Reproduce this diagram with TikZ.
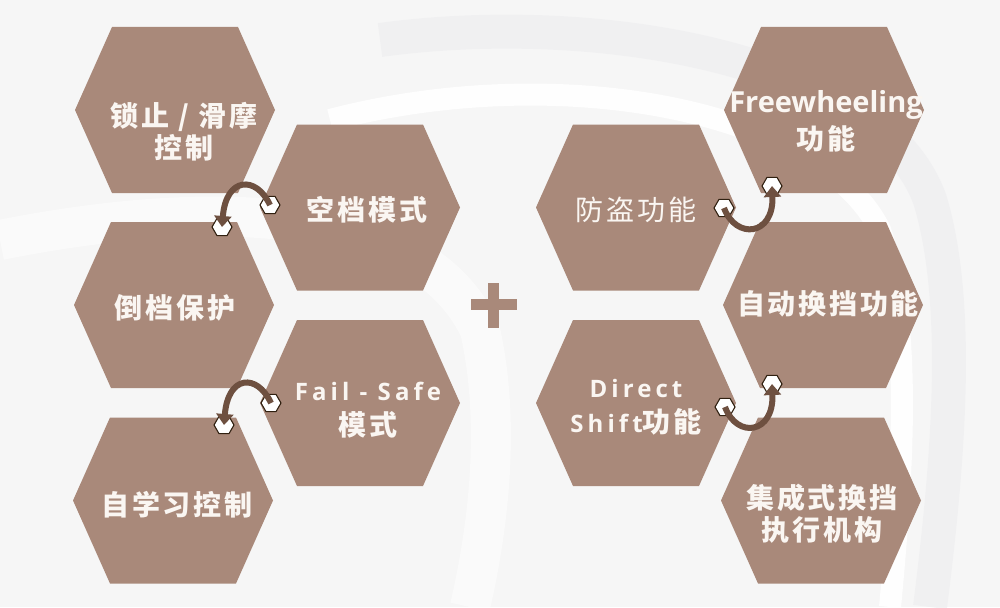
\documentclass[tikz,border=0pt]{standalone}
\usepackage{fontspec}
\setmainfont{Noto Sans CJK SC}
\newfontfamily\cjkb[LetterSpace=10]{Noto Sans CJK SC}
\newfontfamily\latinb[LetterSpace=17]{Open Sans}
\newfontfamily\latinf{Open Sans}
\usetikzlibrary{shapes.geometric,arrows.meta}
\definecolor{hexcol}{RGB}{169,137,122}
\definecolor{txtcol}{RGB}{250,246,242}
\definecolor{arrcol}{RGB}{110,80,64}
\definecolor{bgcol}{RGB}{246,246,246}
\definecolor{swoosh}{RGB}{238,238,240}
\newcommand\hexfill[1]{\fill[hexcol] ([shift={(-100,0)}]#1) -- ([shift={(-63,-83)}]#1) -- ([shift={(63,-83)}]#1) -- ([shift={(100,0)}]#1) -- ([shift={(63,83)}]#1) -- ([shift={(-63,83)}]#1) -- cycle;}
\tikzset{
  label txt/.style={text=txtcol, inner sep=0pt, align=center, font=\cjkb\bfseries\fontsize{28}{32}\selectfont},
  thin txt/.style={text=txtcol, inner sep=0pt, align=center, font=\cjkb\fontsize{28}{32}\selectfont},
  minihex/.style={regular polygon, regular polygon sides=6, minimum size=20pt, inner sep=0pt, fill=white, draw=black!75!brown, line width=1.1pt},
  curvearrow/.style={draw=arrcol, line width=6pt, -{Triangle[width=17pt,length=11pt]}},
}
\begin{document}
\begin{tikzpicture}[x=1pt,y=-1pt]
\useasboundingbox (0,0) rectangle (1000,607);
\fill[bgcol] (0,0) rectangle (1000,607);
% faint background swooshes
\draw[swoosh, line width=34pt, opacity=0.7] (380,40) .. controls (600,10) and (880,60) .. (930,200) .. controls (960,300) and (950,450) .. (930,607);
\draw[white, line width=22pt, opacity=0.9] (330,120) .. controls (560,60) and (820,110) .. (880,230) .. controls (910,320) and (905,450) .. (890,607);
\draw[white, line width=40pt, opacity=0.5] (0,240) .. controls (200,200) and (420,200) .. (480,330) .. controls (500,420) and (490,520) .. (470,607);
% hexagon centres
\coordinate (h1) at (175,110);
\coordinate (h2) at (360,207.5);
\coordinate (h3) at (174,305);
\coordinate (h4) at (360,403);
\coordinate (h5) at (173,500.5);
\coordinate (h6) at (636,207.5);
\coordinate (h7) at (824,110);
\coordinate (h8) at (823,305);
\coordinate (h9) at (636,403);
\coordinate (h10) at (821,500.5);
\foreach \h in {h1,h2,h3,h4,h5,h6,h7,h8,h9,h10}{\hexfill{\h}}
% plus sign
\fill[hexcol] (471,299) rectangle (517,310);
\fill[hexcol] (488,283) rectangle (499,328);
% texts
\node[label txt] (t1) at (184,132) {锁止 / 滑摩\\控制};
\node[label txt] (t2) at (367,210) {空档模式};
\node[label txt] (t3) at (175,308) {倒档保护};
\node[label txt] (t4) at (368,410) {{\latinb\bfseries\fontsize{24}{30}\selectfont Fail - Safe}\\[3pt]模式};
\node[label txt] (t5) at (177,505) {自学习控制};
\node[thin txt] (t6) at (636,210) {防盗功能};
\node[label txt] (t7) at (826,121) {{\latinf\bfseries\fontsize{29}{32}\selectfont Freewheeling}\\[5pt]功能};
\node[label txt] (t8) at (828,304) {自动换挡功能};
\node[label txt] (t9) at (636,407) {{\latinb\bfseries\fontsize{24}{30}\selectfont Direct}\\[3pt]{\latinb\bfseries\fontsize{24}{30}\selectfont Shift}功能};
\node[label txt] (t10) at (822,514) {集成式换挡\\执行机构};
% small connector hexagons
\node[minihex] (sA) at (270,205) {};
\node[minihex] (sB) at (222,227) {};
\node[minihex] (sC) at (724,208) {};
\node[minihex] (sD) at (772,186) {};
\node[minihex] (sE) at (271,403) {};
\node[minihex] (sF) at (224,425) {};
\node[minihex] (sG) at (725,407) {};
\node[minihex] (sH) at (772,384) {};
% curved arrows
\draw[curvearrow] (sA.center) .. controls +(-14,-30) and +(4,-50) .. (sB.center);
\draw[curvearrow] (sE.center) .. controls +(-14,-30) and +(4,-50) .. (sF.center);
\draw[curvearrow] (sC.center) .. controls +(12,32) and +(2,50) .. (sD.center);
\draw[curvearrow] (sG.center) .. controls +(12,32) and +(2,50) .. (sH.center);
\end{tikzpicture}
\end{document}
